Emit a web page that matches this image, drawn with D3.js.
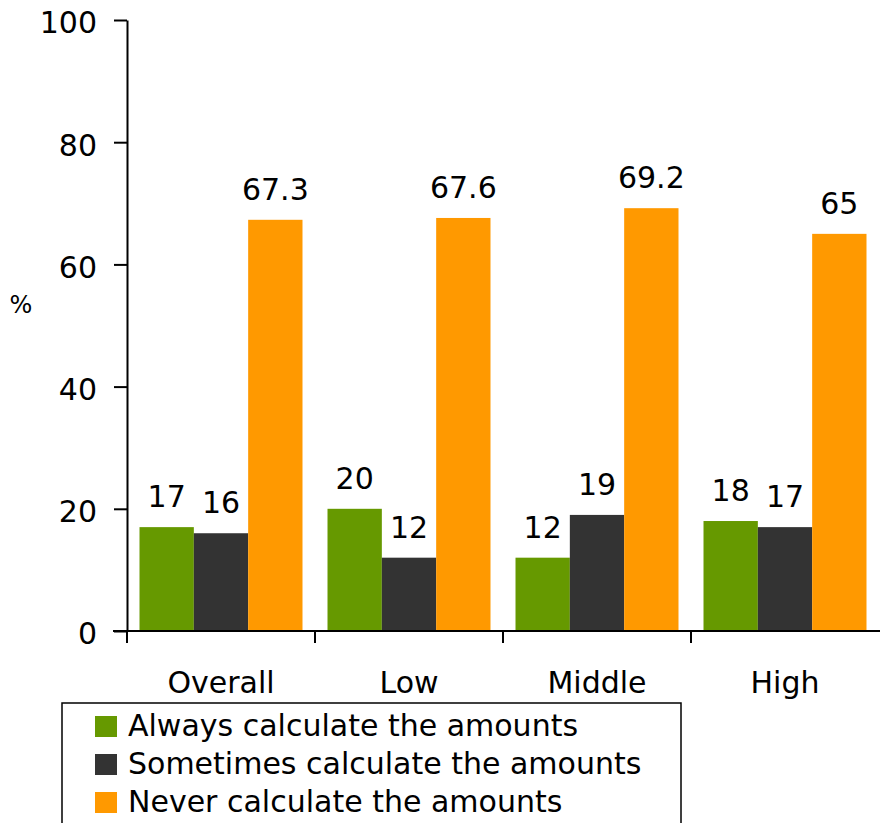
<!DOCTYPE html>
<html>
<head>
<meta charset="utf-8">
<script src="https://cdn.jsdelivr.net/npm/d3@7"></script>
<style>
  html, body { margin: 0; padding: 0; background: #fff; }
  svg { display: block; }
  text { font-family: "DejaVu Sans", sans-serif; fill: #000; }
</style>
</head>
<body>
<svg id="chart" width="880" height="823"></svg>
<script>
// Income groups shown along the x axis
const categories = ["Overall", "Low", "Middle", "High"];
// Response series
const seriesNames = [
  "Always calculate the amounts",
  "Sometimes calculate the amounts",
  "Never calculate the amounts"
];
const seriesColors = ["#669900", "#333333", "#ff9900"];
// Percentages per group, one array per series
const alwaysValues    = [17, 20, 12, 18];
const sometimesValues = [16, 12, 19, 17];
const neverValues     = [67.3, 67.6, 69.2, 65];
// Label text for each value
const alwaysLabels    = ["17", "20", "12", "18"];
const sometimesLabels = ["16", "12", "19", "17"];
const neverLabels     = ["67.3", "67.6", "69.2", "65"];
const yTicks = [0, 20, 40, 60, 80, 100];

const seriesValues = [alwaysValues, sometimesValues, neverValues];
const seriesLabels = [alwaysLabels, sometimesLabels, neverLabels];

const svg = d3.select("#chart");
const plot = { left: 127, right: 879, top: 20, bottom: 631 };

const x0 = d3.scaleBand()
  .domain(categories)
  .range([plot.left, plot.right])
  .paddingInner(0.133)
  .paddingOuter(0.0665);
const x1 = d3.scaleBand()
  .domain(seriesNames)
  .range([0, x0.bandwidth()]);
const y = d3.scaleLinear().domain([0, 100]).range([plot.bottom, plot.top]);

// Bars
const rows = categories.map((c, i) => seriesNames.map((s, k) => ({
  cat: c, series: s, k, value: seriesValues[k][i], label: seriesLabels[k][i]
})));
const groups = svg.append("g").selectAll("g")
  .data(rows).join("g")
  .attr("transform", d => `translate(${x0(d[0].cat)},0)`);
groups.selectAll("rect")
  .data(d => d).join("rect")
  .attr("x", d => x1(d.series))
  .attr("width", x1.bandwidth())
  .attr("y", d => y(d.value))
  .attr("height", d => y(0) - y(d.value))
  .attr("fill", d => seriesColors[d.k]);
// Value labels above bars
groups.selectAll("text")
  .data(d => d).join("text")
  .attr("x", d => x1(d.series) + x1.bandwidth() / 2)
  .attr("y", d => y(d.value) - 20)
  .attr("text-anchor", "middle")
  .attr("font-size", 30)
  .text(d => d.label);

// Y axis
const yAxis = svg.append("g")
  .attr("transform", `translate(${plot.left},0)`)
  .call(d3.axisLeft(y).tickValues(yTicks).tickSize(13).tickPadding(17).tickSizeOuter(0));
yAxis.select(".domain").attr("stroke", "#000").attr("stroke-width", 2);
yAxis.selectAll(".tick line").attr("stroke", "#000").attr("stroke-width", 2);
yAxis.selectAll(".tick text")
  .attr("font-family", "DejaVu Sans, sans-serif")
  .attr("font-size", 30)
  .attr("dy", "0.43em")
  .attr("fill", "#000");

// X axis: category labels centred in each band
const xAxis = svg.append("g")
  .attr("transform", `translate(0,${plot.bottom})`)
  .call(d3.axisBottom(x0).tickSize(0).tickPadding(41));
xAxis.select(".domain").remove();
xAxis.selectAll(".tick text")
  .attr("font-family", "DejaVu Sans, sans-serif")
  .attr("font-size", 30)
  .attr("fill", "#000");
// Baseline and category boundary ticks
svg.append("line")
  .attr("x1", plot.left - 14).attr("x2", 880)
  .attr("y1", plot.bottom).attr("y2", plot.bottom)
  .attr("stroke", "#000").attr("stroke-width", 2);
const halfGap = x0.step() * x0.paddingInner() / 2;
svg.append("g").selectAll("line")
  .data(categories).join("line")
  .attr("x1", d => x0(d) - halfGap).attr("x2", d => x0(d) - halfGap)
  .attr("y1", plot.bottom).attr("y2", plot.bottom + 12)
  .attr("stroke", "#000").attr("stroke-width", 2);

// Y axis unit
svg.append("text")
  .attr("x", 21).attr("y", 313)
  .attr("text-anchor", "middle")
  .attr("font-size", 24)
  .text("%");

// Legend
const legend = svg.append("g");
legend.append("rect")
  .attr("x", 62).attr("y", 703)
  .attr("width", 619).attr("height", 140)
  .attr("fill", "#fff").attr("stroke", "#000").attr("stroke-width", 1.5);
const items = legend.selectAll("g.item")
  .data(seriesNames).join("g")
  .attr("class", "item")
  .attr("transform", (d, i) => `translate(95,${716 + i * 38})`);
items.append("rect")
  .attr("width", 22).attr("height", 21)
  .attr("fill", (d, i) => seriesColors[i]);
items.append("text")
  .attr("x", 33).attr("y", 20)
  .attr("font-size", 30)
  .text(d => d);
</script>
</body>
</html>
